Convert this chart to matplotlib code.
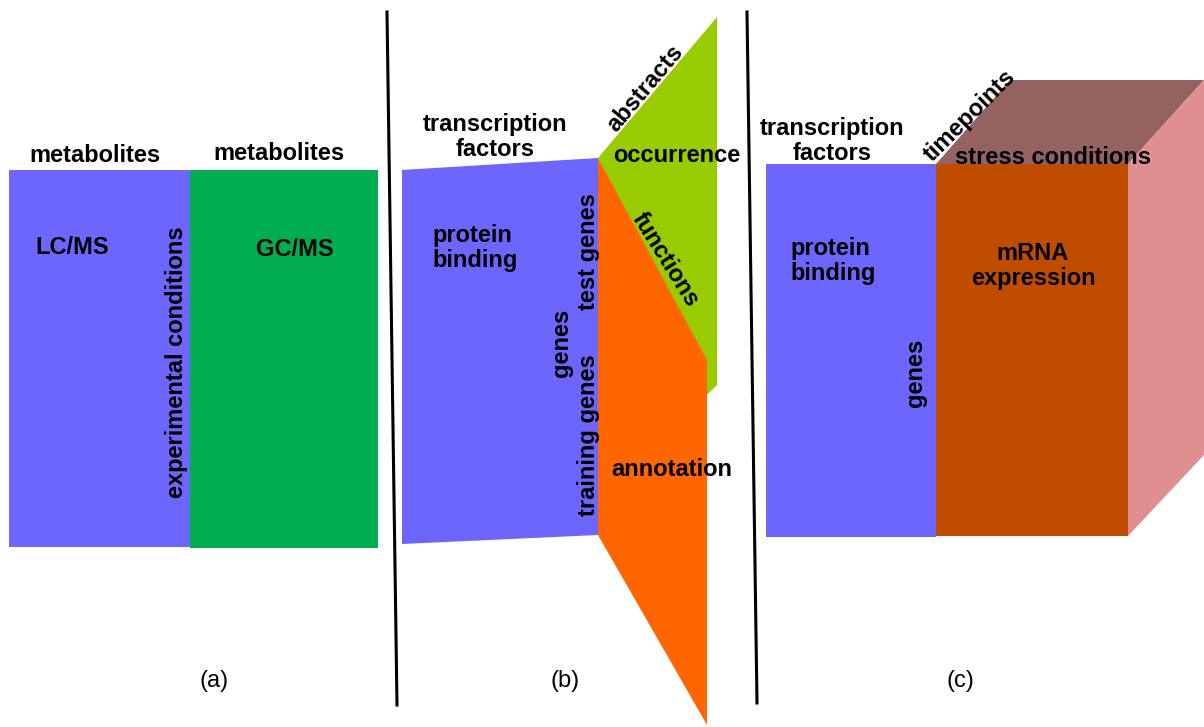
import matplotlib.pyplot as plt
from matplotlib.patches import Polygon

plt.rcParams['font.family'] = ['Liberation Sans', 'DejaVu Sans']

# shapes, in picture pixels (x, y down)
blue_a = [(9, 170), (190, 170), (190, 547), (9, 547)]
green_a = [(190, 170), (378, 170), (378, 548), (190, 548)]

blue_b = [(402, 170), (598, 158), (598, 535), (402, 544)]
lime_b = [(598, 158), (717, 17), (717, 385), (707, 395)]
orange_b = [(598, 158), (707, 360), (707, 725), (598, 535)]

blue_c = [(766, 164), (936, 164), (936, 537), (766, 537)]
front_c = [(936, 164), (1128, 164), (1128, 536), (936, 536)]
top_c = [(936, 164), (1010, 80), (1204, 80), (1128, 164)]
side_c = [(1128, 164), (1204, 80), (1204, 455), (1128, 536)]

shapes = [
    (blue_a, '#6c66ff'), (green_a, '#00ae50'),
    (blue_b, '#6c66ff'), (lime_b, '#99cc00'), (orange_b, '#ff6600'),
    (blue_c, '#6c66ff'), (front_c, '#c04c00'), (top_c, '#956262'),
    (side_c, '#df8f8f'),
]

dividers = [((387, 12), (397, 705)), ((747, 12), (757, 703))]

# labels: text, x, y, rotation, ha
labels = [
    ("metabolites", 95, 156, 0, 'center'),
    ("metabolites", 279, 153, 0, 'center'),
    ("LC/MS", 72, 247, 0, 'center'),
    ("GC/MS", 295, 249, 0, 'center'),
    ("experimental conditions", 176, 362, 90, 'center'),
    ("transcription\nfactors", 495, 137, 0, 'center'),
    ("abstracts", 645, 88, 50, 'center'),
    ("occurrence", 677, 155, 0, 'center'),
    ("functions", 665, 260, -58, 'center'),
    ("protein\nbinding", 432, 248, 0, 'left'),
    ("test genes", 588, 252, 90, 'center'),
    ("genes", 562, 343, 90, 'center'),
    ("training genes", 588, 435, 90, 'center'),
    ("annotation", 672, 470, 0, 'center'),
    ("transcription\nfactors", 832, 141, 0, 'center'),
    ("timepoints", 970, 116, 45, 'center'),
    ("stress conditions", 1053, 157, 0, 'center'),
    ("protein\nbinding", 790, 261, 0, 'left'),
    ("mRNA\nexpression", 1033, 266, 0, 'center'),
    ("genes", 916, 373, 90, 'center'),
]
captions = [("(a)", 214, 681), ("(b)", 565, 681), ("(c)", 960, 681)]

fig = plt.figure(figsize=(12.04, 7.27), dpi=100)
ax = fig.add_axes([0, 0, 1, 1])
ax.set_xlim(0, 1204)
ax.set_ylim(727, 0)
ax.axis('off')

for pts, col in shapes:
    ax.add_patch(Polygon(pts, closed=True, facecolor=col, edgecolor='none'))

for (x0, y0), (x1, y1) in dividers:
    ax.plot([x0, x1], [y0, y1], color='black', lw=2.2)

for txt, x, y, rot, ha in labels:
    ax.text(x, y, txt, rotation=rot, ha=ha, va='center', fontsize=17,
            fontweight='bold', linespacing=1.15, rotation_mode='anchor')

for txt, x, y in captions:
    ax.text(x, y, txt, ha='center', va='center', fontsize=17)

fig.savefig('out.png', dpi=100)
